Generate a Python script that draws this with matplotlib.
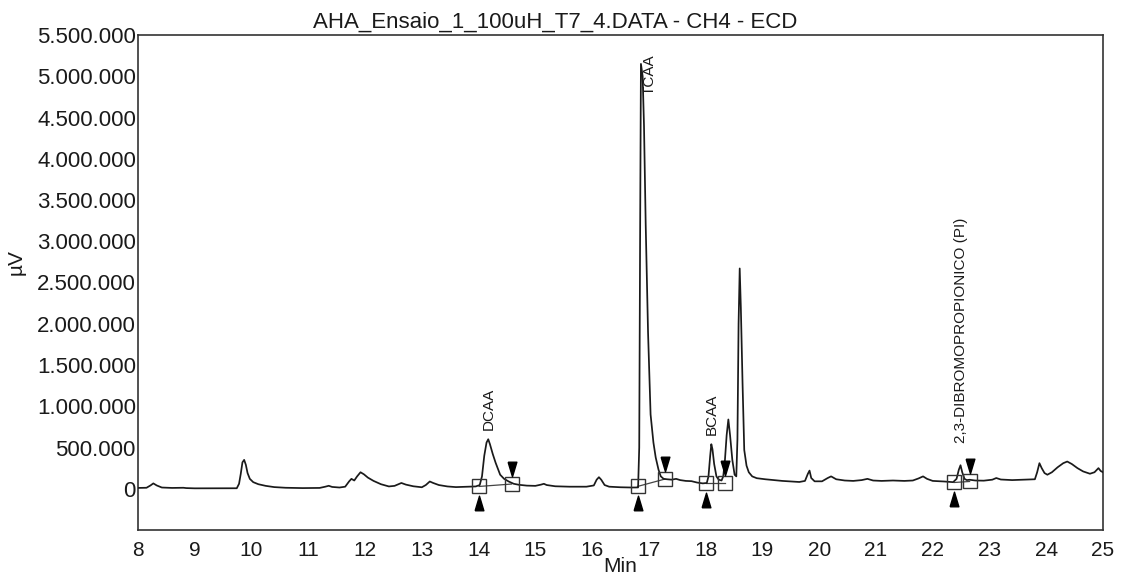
import matplotlib
matplotlib.use("Agg")
import matplotlib.pyplot as plt
from matplotlib.ticker import FuncFormatter
from matplotlib.transforms import offset_copy

plt.rcParams['font.family'] = ['Liberation Sans', 'DejaVu Sans']

# ---- chromatogram trace (time in min, signal in µV) ----
time_min = [
    8.00, 8.15, 8.22, 8.27, 8.33, 8.42, 8.60, 8.80, 8.85, 9.00, 9.30, 9.60, 9.74,
    9.78, 9.81, 9.84, 9.87, 9.90, 9.93, 9.97, 10.03, 10.12, 10.25, 10.40, 10.60,
    10.90, 11.20, 11.30, 11.36, 11.42, 11.55, 11.65,
    11.72, 11.76, 11.81, 11.86, 11.92, 11.98, 12.05, 12.15, 12.28, 12.42, 12.52,
    12.64, 12.72, 12.85, 13.00, 13.07, 13.14, 13.20, 13.30, 13.45, 13.60, 13.80,
    13.95, 14.02,
    14.06, 14.10, 14.14, 14.17, 14.20, 14.25, 14.30, 14.38, 14.45, 14.53, 14.62,
    14.71, 14.85, 15.00, 15.10, 15.15, 15.20, 15.35, 15.60, 15.90, 16.03, 16.08,
    16.12, 16.16, 16.22, 16.30, 16.50, 16.70, 16.81,
    16.83, 16.845, 16.86, 16.89, 16.914, 16.944, 16.985, 17.03, 17.08, 17.12,
    17.17, 17.21, 17.26, 17.32, 17.40, 17.48, 17.55, 17.65, 17.75, 17.85, 17.95,
    18.02,
    18.05, 18.08, 18.10, 18.12, 18.15, 18.19, 18.23, 18.28, 18.31, 18.34, 18.37,
    18.40, 18.43, 18.47, 18.51, 18.54, 18.56, 18.58, 18.60, 18.62, 18.65, 18.68,
    18.72, 18.76, 18.82, 18.90, 19.05, 19.20, 19.35, 19.50, 19.65, 19.75, 19.80,
    19.83, 19.86, 19.92, 20.05, 20.15, 20.21, 20.30, 20.45, 20.60, 20.75, 20.85,
    20.95, 21.10, 21.30, 21.50, 21.65, 21.75, 21.83, 21.90, 22.00, 22.20, 22.36,
    22.42, 22.46, 22.49, 22.52, 22.56, 22.60, 22.65, 22.75, 22.90, 23.05, 23.12,
    23.20, 23.40, 23.60, 23.80, 23.84, 23.88, 23.92, 23.97, 24.02, 24.10, 24.20,
    24.30, 24.37, 24.45, 24.55, 24.65, 24.77, 24.85, 24.92, 24.96, 25.00,
]
signal_uv = [
    10000, 12000, 40000, 65000, 40000, 15000, 10000, 12000, 8000, 5000, 5000, 5000, 6000,
    60000, 180000, 320000, 350000, 290000, 190000, 120000, 80000, 55000, 35000, 20000, 12000,
    8000, 10000, 25000, 36000, 22000, 15000, 25000,
    90000, 120000, 100000, 150000, 200000, 175000, 135000, 95000, 55000, 28000, 35000,
    70000, 50000, 30000, 18000, 45000, 88000, 70000, 45000, 28000, 20000, 25000,
    28000, 45000,
    150000, 400000, 560000, 600000, 540000, 420000, 315000, 170000, 120000, 88000, 60000,
    48000, 38000, 35000, 50000, 60000, 45000, 30000, 25000, 25000, 40000, 110000,
    140000, 110000, 45000, 25000, 18000, 15000, 16000,
    500000, 3000000, 5150000, 5000000, 4400000, 3200000, 1900000, 900000, 560000, 380000,
    230000, 150000, 120000, 115000, 110000, 120000, 105000, 95000, 92000, 75000, 65000,
    70000,
    150000, 400000, 540000, 480000, 300000, 150000, 110000, 100000, 150000, 350000, 650000,
    840000, 650000, 350000, 170000, 150000, 600000, 2000000, 2670000, 2200000, 1280000, 470000,
    280000, 200000, 150000, 128000, 115000, 105000, 95000, 88000, 82000, 95000, 180000,
    220000, 130000, 90000, 90000, 130000, 150000, 115000, 100000, 95000, 105000, 120000,
    100000, 95000, 100000, 95000, 100000, 125000, 150000, 120000, 95000, 88000, 80000,
    120000, 230000, 285000, 200000, 120000, 105000, 109000, 100000, 98000, 110000, 130000,
    112000, 105000, 110000, 115000, 200000, 310000, 250000, 190000, 170000, 200000, 260000,
    310000, 330000, 300000, 250000, 210000, 182000, 200000, 250000, 215000, 200000,
]

# ---- integration events (start / end of each identified peak) ----
peak_names = ["DCAA", "TCAA", "BCAA", "2,3-DIBROMOPROPIONICO (PI)"]
start_t = [14.01, 16.80, 18.01, 22.38]
start_uv = [28000, 28000, 69000, 76000]
end_t = [14.58, 17.28, 18.34, 22.65]
end_uv = [57000, 117000, 69000, 88000]

# ---- peak label anchors ----
label_t = [14.18, 17.02, 18.11, 22.50]
label_uv = [714000, 4770000, 654000, 557000]

y_ticks = [0, 500000, 1000000, 1500000, 2000000, 2500000, 3000000,
           3500000, 4000000, 4500000, 5000000, 5500000]
x_ticks = list(range(8, 26))

title = "AHA_Ensaio_1_100uH_T7_4.DATA - CH4 - ECD"

fig = plt.figure(figsize=(11.27, 5.81), dpi=100)
ax = fig.add_axes([138 / 1127, 1 - 530 / 581, 965 / 1127, 495 / 581])

ink = "#1a1a1a"
ax.plot(time_min, signal_uv, color=ink, lw=1.25, zorder=3)

# baselines between integration start and end
for t0, y0, t1, y1 in zip(start_t, start_uv, end_t, end_uv):
    ax.plot([t0, t1], [y0, y1], color="#444444", lw=0.9, zorder=2)

# squares at integration events
ax.plot(start_t, start_uv, ls="none", marker="s", ms=9.5, mfc="none",
        mec="#333333", mew=1.0, zorder=4)
ax.plot(end_t, end_uv, ls="none", marker="s", ms=9.5, mfc="none",
        mec="#333333", mew=1.0, zorder=4)

up_tri = [(-0.3, -0.5), (0.3, -0.5), (0.0, 0.5), (-0.3, -0.5)]
down_tri = [(-0.3, 0.5), (0.3, 0.5), (0.0, -0.5), (-0.3, 0.5)]
tr_below = offset_copy(ax.transData, fig=fig, x=0, y=-17, units='dots')
tr_above = offset_copy(ax.transData, fig=fig, x=0, y=15, units='dots')
ax.plot(start_t, start_uv, ls="none", marker=up_tri, ms=10.5, color="black",
        transform=tr_below, zorder=4, clip_on=False)
ax.plot(end_t, end_uv, ls="none", marker=down_tri, ms=10.5, color="black",
        transform=tr_above, zorder=4, clip_on=False)

# peak labels
for name, lt, lu in zip(peak_names, label_t, label_uv):
    ax.text(lt, lu, name, rotation=90, ha="center", va="bottom",
            fontsize=11, color=ink, zorder=5)

ax.set_xlim(8, 25)
ax.set_ylim(-500000, 5500000)
ax.set_xticks(x_ticks)
ax.set_yticks(y_ticks)
ax.yaxis.set_major_formatter(FuncFormatter(lambda v, p: f"{int(v):,}".replace(",", ".")))
ax.tick_params(axis="y", length=0, pad=1.5, labelsize=16, labelcolor=ink)
ax.tick_params(axis="x", length=0, pad=8, labelsize=15, labelcolor=ink)

for s in ax.spines.values():
    s.set_color("#333333")
    s.set_linewidth(1.2)

fig.text(555 / 1127, 1 - 28 / 581, title, ha="center", va="baseline",
         fontsize=16, color=ink)
fig.text(620 / 1127, 1 - 566 / 581, "Min", ha="center", va="center",
         fontsize=15, color=ink)
fig.text(16 / 1127, 1 - 262 / 581, "µV", ha="center", va="center",
         rotation=90, fontsize=15, color=ink)

fig.savefig("out.png", dpi=100)
